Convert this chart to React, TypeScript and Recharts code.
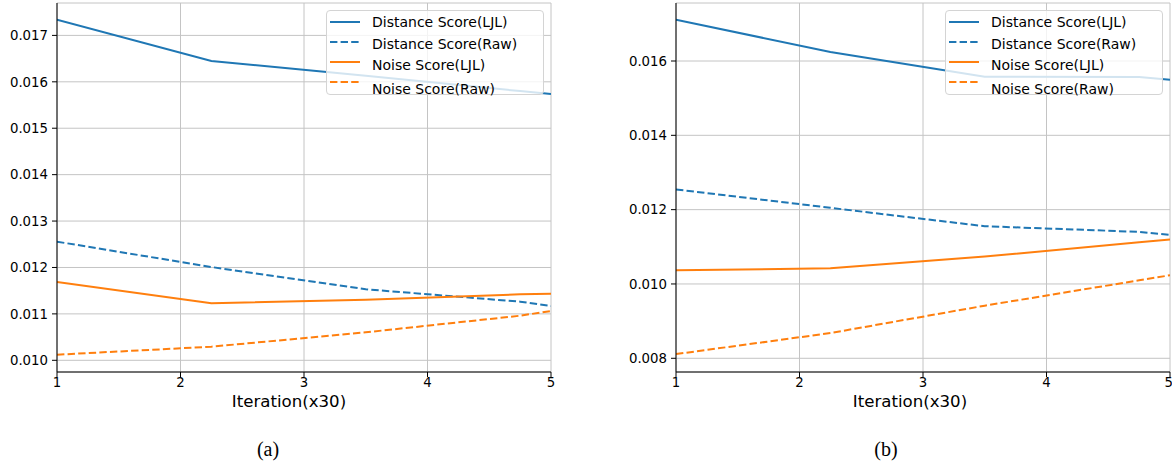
import { CartesianGrid, Legend, Line, LineChart, XAxis, YAxis } from 'recharts';

// iteration positions of the recorded points (x30)
const ITERATIONS = [1, 2.25, 3.5, 4.75, 5];
const X_TICKS = [1, 2, 3, 4, 5];

// panel (a)
const A_DIST_LJL = [0.01734, 0.01645, 0.01613, 0.0158, 0.01574];
const A_DIST_RAW = [0.012556, 0.01201, 0.01153, 0.011263, 0.01117];
const A_NOISE_LJL = [0.011687, 0.01123, 0.011306, 0.011422, 0.011435];
const A_NOISE_RAW = [0.010121, 0.010293, 0.010603, 0.010961, 0.011062];
const A_Y_TICKS = [0.01, 0.011, 0.012, 0.013, 0.014, 0.015, 0.016, 0.017];

// panel (b)
const B_DIST_LJL = [0.017112, 0.016242, 0.015578, 0.01557, 0.015498];
const B_DIST_RAW = [0.012543, 0.012049, 0.011554, 0.011402, 0.01132];
const B_NOISE_LJL = [0.010368, 0.010422, 0.010737, 0.011123, 0.011195];
const B_NOISE_RAW = [0.008113, 0.008679, 0.009416, 0.010099, 0.010234];
const B_Y_TICKS = [0.008, 0.01, 0.012, 0.014, 0.016];

const SERIES = [
  { key: 'distLjl', name: 'Distance Score(LJL)', color: '#1f77b4', dashed: false },
  { key: 'distRaw', name: 'Distance Score(Raw)', color: '#1f77b4', dashed: true },
  { key: 'noiseLjl', name: 'Noise Score(LJL)', color: '#ff7f0e', dashed: false },
  { key: 'noiseRaw', name: 'Noise Score(Raw)', color: '#ff7f0e', dashed: true },
];

const DASH = '7.4 3.2';
const FONT = '"DejaVu Sans", sans-serif';

function buildRows(dl: number[], dr: number[], nl: number[], nr: number[]) {
  return ITERATIONS.map((it, i) => ({ it, distLjl: dl[i], distRaw: dr[i], noiseLjl: nl[i], noiseRaw: nr[i] }));
}

const A_ROWS = buildRows(A_DIST_LJL, A_DIST_RAW, A_NOISE_LJL, A_NOISE_RAW);
const B_ROWS = buildRows(B_DIST_LJL, B_DIST_RAW, B_NOISE_LJL, B_NOISE_RAW);

// legend row placement inside the box (matplotlib mathtext makes them uneven)
const SWATCH_Y = [11.7, 31.7, 51.7, 71.7];
const TEXT_Y = [11.7, 34.3, 55, 79.3];

function LegendBox() {
  return (
    <div style={{ position: 'relative', width: 218, height: 85, boxSizing: 'border-box', border: '1px solid #d4d4d4', borderRadius: 4, background: 'rgba(255,255,255,0.8)', fontFamily: FONT }}>
      {SERIES.map((s, i) => (
        <div key={s.key}>
          <svg width={30} height={10} style={{ position: 'absolute', left: 3, top: SWATCH_Y[i] - 6 }}>
            <line x1={0} x2={30} y1={5} y2={5} stroke={s.color} strokeWidth={2} strokeDasharray={s.dashed ? DASH : undefined} />
          </svg>
          <div style={{ position: 'absolute', left: 45, top: TEXT_Y[i] - 11, height: 20, lineHeight: '20px', fontSize: 14, color: '#000', whiteSpace: 'nowrap' }}>{s.name}</div>
        </div>
      ))}
    </div>
  );
}

type PanelProps = {
  rows: ReturnType<typeof buildRows>;
  yTicks: number[];
  yDomain: [number, number];
  yWidth: number;
  width: number;
  right: number;
  legendLeft: number;
};

function Panel({ rows, yTicks, yDomain, yWidth, width, right, legendLeft }: PanelProps) {
  const tick = { fontSize: 13.3, fill: '#000', fontFamily: FONT };
  return (
    <LineChart width={width} height={420} data={rows} margin={{ top: 3, right, bottom: 18, left: 0 }}>
      <CartesianGrid stroke="#c4c4c4" strokeWidth={1} />
      <XAxis dataKey="it" type="number" domain={[1, 5]} ticks={X_TICKS} allowDataOverflow height={30} tick={tick} tickSize={5} tickMargin={1} stroke="#000" tickLine={{ stroke: '#000' }} axisLine={{ stroke: '#000' }} />
      <XAxis xAxisId="top" orientation="top" type="number" domain={[1, 5]} height={0} tick={false} tickLine={false} axisLine={{ stroke: '#000' }} />
      <YAxis type="number" domain={yDomain} ticks={yTicks} allowDataOverflow width={yWidth} tick={tick} tickSize={5} tickMargin={4} tickFormatter={(v: number) => v.toFixed(3)} tickLine={{ stroke: '#000' }} axisLine={{ stroke: '#000' }} />
      <YAxis yAxisId="right" orientation="right" type="number" domain={yDomain} width={0} tick={false} tickLine={false} axisLine={{ stroke: '#000' }} />
      {SERIES.map((s) => (
        <Line key={s.key} dataKey={s.key} name={s.name} type="linear" stroke={s.color} strokeWidth={2} strokeDasharray={s.dashed ? DASH : undefined} dot={false} activeDot={false} isAnimationActive={false} />
      ))}
      <Legend layout="vertical" align="center" verticalAlign="middle" content={() => <LegendBox />} wrapperStyle={{ left: legendLeft, top: 10, width: 218, height: 85 }} />
    </LineChart>
  );
}

const captionStyle = { position: 'absolute' as const, height: 20, lineHeight: '20px', fontSize: 16.6, fontFamily: FONT, color: '#000', textAlign: 'center' as const, whiteSpace: 'nowrap' as const };
const letterStyle = { position: 'absolute' as const, height: 24, lineHeight: '24px', fontSize: 20, fontFamily: '"Liberation Serif", serif', color: '#000', textAlign: 'center' as const };

export default function App() {
  return (
    <div style={{ position: 'absolute', left: 0, top: 0, width: 1172, height: 461, background: '#fff', overflow: 'hidden' }}>
      <div style={{ position: 'absolute', left: 0, top: 0 }}>
        <Panel rows={A_ROWS} yTicks={A_Y_TICKS} yDomain={[0.009748, 0.017698]} yWidth={57} width={560} right={9} legendLeft={326} />
      </div>
      <div style={{ position: 'absolute', left: 600, top: 0 }}>
        <Panel rows={B_ROWS} yTicks={B_Y_TICKS} yDomain={[0.007631, 0.017561]} yWidth={76} width={572} right={2} legendLeft={345} />
      </div>
      <div style={{ ...captionStyle, left: 189, width: 200, top: 392 }}>Iteration(x30)</div>
      <div style={{ ...captionStyle, left: 810, width: 200, top: 392 }}>Iteration(x30)</div>
      <div style={{ ...letterStyle, left: 238, width: 60, top: 437 }}>(a)</div>
      <div style={{ ...letterStyle, left: 856, width: 60, top: 437 }}>(b)</div>
    </div>
  );
}
